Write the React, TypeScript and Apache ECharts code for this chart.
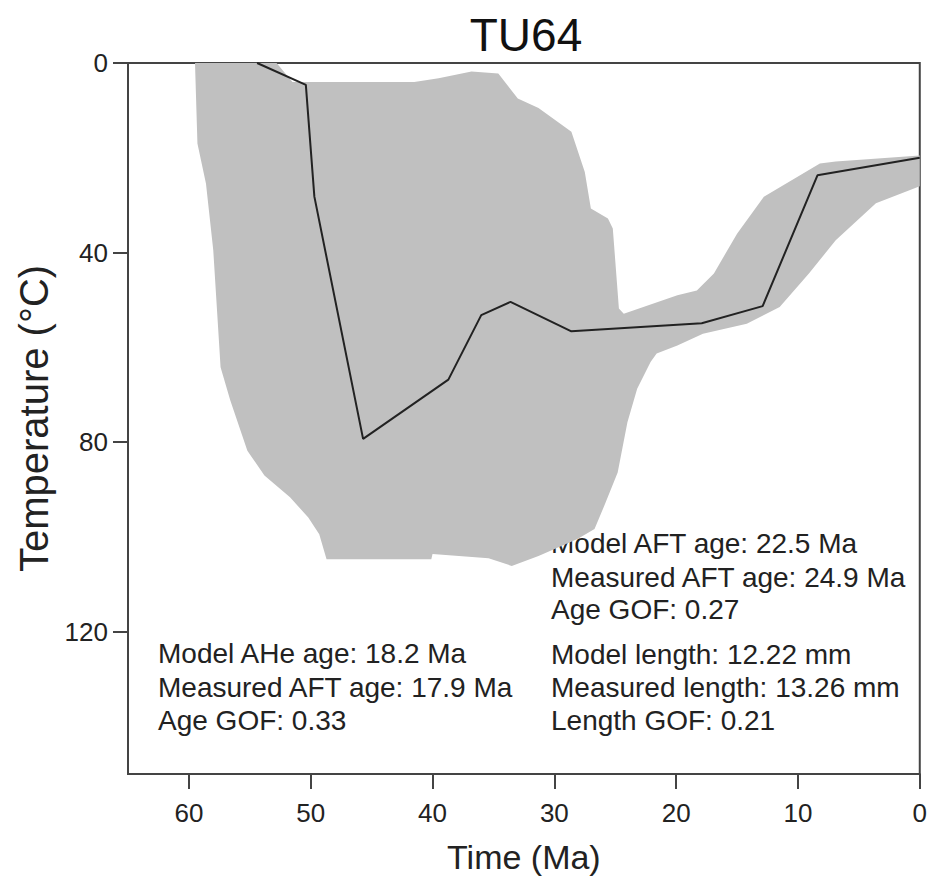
import React, { useEffect, useRef } from "react";
import * as echarts from "echarts";

const FONT = "'Liberation Sans', Arial, sans-serif";

// best-fit time-temperature path (age in Ma, temperature in °C)
const pathAges = [54.4, 50.4, 49.7, 45.7, 38.7, 36.0, 33.6, 28.6, 17.9, 12.9, 8.4, 0];
const pathTemps = [0, 4.6, 28.2, 79.3, 66.8, 53.2, 50.4, 56.6, 54.9, 51.3, 23.7, 20];

// envelope of acceptable paths: upper edge (coolest), left to right
const envUpperAges = [59.5, 52.8, 51.5, 41.5, 39.5, 36.8, 34.6, 33.0, 31.3, 28.6, 27.5, 27.0, 25.6, 25.2, 24.7, 24.3, 19.9, 18.3, 16.9, 15.0, 12.8, 8.2, 6.9, 0];
const envUpperTemps = [0, 0, 4.0, 4.0, 3.2, 1.8, 2.2, 7.5, 9.5, 14.5, 23, 30.7, 32.8, 34.9, 51.8, 52.9, 49, 48, 44.4, 36, 28.2, 21.2, 20.8, 19.5];
// lower edge (hottest), right to left, then up the left side
const envLowerAges = [0, 3.6, 6.9, 9.1, 11.5, 14.2, 17.8, 19.9, 21.6, 22.1, 23.2, 24.0, 24.8, 25.9, 26.7, 28.1, 31.3, 33.5, 35.4, 40.0, 40.1, 48.7, 49.3, 50.2, 51.7, 53.8, 55.2, 56.6, 57.4, 58.0, 58.6, 59.3];
const envLowerTemps = [26, 29.6, 37.4, 44.4, 51.5, 55, 57.1, 59.6, 61.3, 63.1, 68.7, 75.8, 86.4, 93.4, 98.3, 100.4, 104, 106.1, 104.5, 103.6, 104.7, 104.7, 99.4, 95.9, 91.6, 87, 81.8, 71.2, 64.2, 39.5, 25.4, 17];

const xTicks = [0, 10, 20, 30, 40, 50, 60];
const yTicks = [0, 40, 80, 120];

const leftNotes = ["Model AHe age: 18.2 Ma", "Measured AFT age: 17.9 Ma", "Age GOF: 0.33"];
const rightUpperNotes = ["Model AFT age: 22.5 Ma", "Measured AFT age: 24.9 Ma", "Age GOF: 0.27"];
const rightLowerNotes = ["Model length: 12.22 mm", "Measured length: 13.26 mm", "Length GOF: 0.21"];

export default function App() {
  const ref = useRef<HTMLDivElement>(null);
  useEffect(() => {
    document.body.style.margin = "0";
    if (!ref.current) return;
    const chart = echarts.init(ref.current, undefined, { renderer: "svg" });

    const pathData = pathAges.map((a, i) => [a, pathTemps[i]]);
    const envelope = [
      ...envUpperAges.map((a, i) => [a, envUpperTemps[i]]),
      ...envLowerAges.map((a, i) => [a, envLowerTemps[i]]),
    ];

    const noteText = (lines: string[], x: number, ys: number[]) =>
      lines.map((t, i) => ({
        type: "text",
        x,
        y: ys[i],
        silent: true,
        style: {
          text: t,
          fill: "#222",
          font: `28px ${FONT}`,
          align: "left",
          verticalAlign: "middle",
        },
      }));

    chart.setOption({
      animation: false,
      backgroundColor: "#ffffff",
      title: {
        text: "TU64",
        left: 526,
        top: 12,
        padding: 0,
        textAlign: "center",
        textStyle: { fontSize: 46, fontWeight: "normal", color: "#111", fontFamily: FONT },
      },
      grid: {
        left: 128,
        right: 5,
        top: 63,
        bottom: 107,
        show: true,
        borderColor: "#444",
        borderWidth: 2,
        backgroundColor: "transparent",
      },
      xAxis: {
        type: "value",
        min: 0,
        max: 65,
        interval: 10,
        inverse: true,
        axisLine: { show: true, onZero: false, lineStyle: { color: "#444", width: 2 } },
        axisTick: { show: true, length: 15, customValues: xTicks, lineStyle: { color: "#444", width: 2 } },
        axisLabel: { customValues: xTicks, margin: 26, fontSize: 26, color: "#222", fontFamily: FONT },
        splitLine: { show: false },
        name: "Time (Ma)",
        nameLocation: "middle",
        nameGap: 66,
        nameTextStyle: { fontSize: 34, color: "#222", fontFamily: FONT },
      },
      yAxis: {
        type: "value",
        min: 0,
        max: 150,
        interval: 40,
        inverse: true,
        axisLine: { show: true, onZero: false, lineStyle: { color: "#444", width: 2 } },
        axisTick: { show: true, length: 15, customValues: yTicks, lineStyle: { color: "#444", width: 2 } },
        axisLabel: { customValues: yTicks, margin: 20, fontSize: 26, color: "#222", fontFamily: FONT },
        splitLine: { show: false },
        name: "Temperature (°C)",
        nameLocation: "middle",
        nameGap: 70,
        nameTextStyle: { fontSize: 40, color: "#222", fontFamily: FONT },
      },
      series: [
        {
          type: "custom",
          silent: true,
          z: 1,
          data: envelope,
          renderItem: (params: any, api: any) => {
            if (params.dataIndex !== 0) return null;
            return {
              type: "polygon",
              shape: { points: envelope.map((p) => api.coord(p)) },
              style: { fill: "#c0c0c0", stroke: "none" },
            };
          },
        },
        {
          type: "line",
          z: 3,
          data: pathData,
          symbol: "none",
          lineStyle: { color: "#222", width: 2 },
          silent: true,
        },
      ],
      graphic: [
        ...noteText(leftNotes, 158, [653, 687, 720]),
        ...noteText(rightUpperNotes, 551, [543, 577, 609]),
        ...noteText(rightLowerNotes, 551, [654, 687, 720]),
      ],
    });

    return () => chart.dispose();
  }, []);

  return <div ref={ref} style={{ width: 930, height: 881 }} />;
}
